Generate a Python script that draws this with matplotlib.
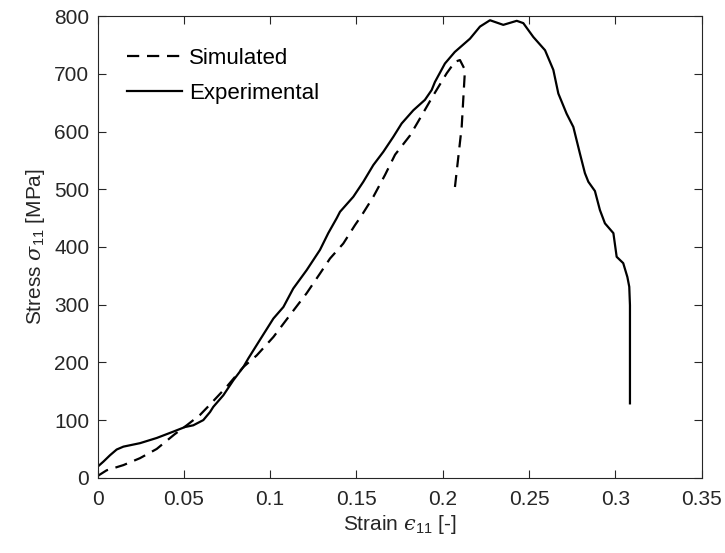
import numpy as np
import matplotlib
matplotlib.use("Agg")
import matplotlib.pyplot as plt

plt.rcParams['font.family'] = ['Liberation Sans', 'DejaVu Sans']
plt.rcParams['mathtext.fontset'] = 'custom'
plt.rcParams['mathtext.rm'] = 'Liberation Sans'
plt.rcParams['mathtext.it'] = 'DejaVu Serif:italic'

# simulated curve (strain, stress)
sim_strain = [0, 0.0053, 0.015, 0.0246, 0.0343, 0.0445, 0.0517, 0.0594, 0.0652, 0.0749,
              0.0845, 0.0922, 0.1019, 0.1115, 0.1212, 0.1289, 0.1347, 0.1424, 0.1492, 0.1531,
              0.1598, 0.1666, 0.1724, 0.181, 0.1859, 0.1946, 0.2023, 0.2071, 0.21, 0.2129,
              0.211, 0.2071]
sim_stress = [3, 13, 22, 34, 50, 75, 91, 109, 127, 158,
              192, 212, 244, 282, 320, 354, 380, 406, 438, 455,
              487, 525, 560, 593, 618, 663, 701, 721, 724, 707,
              608, 504]

# experimental curve (strain, stress)
exp_strain = [0, 0.0034, 0.0072, 0.0111, 0.015, 0.0246, 0.0343, 0.0439, 0.0507, 0.0555,
              0.0613, 0.0652, 0.0671, 0.0729, 0.0787, 0.0845, 0.0874, 0.0941, 0.1019, 0.1077,
              0.1134, 0.1212, 0.1289, 0.1337, 0.1386, 0.1405, 0.1482, 0.154, 0.1598, 0.1656,
              0.1714, 0.1762, 0.183, 0.1897, 0.1936, 0.1955, 0.2013, 0.207, 0.2158, 0.2216,
              0.2274, 0.2351, 0.2429, 0.2467, 0.2525, 0.2593, 0.2641, 0.267, 0.2718, 0.2757,
              0.2795, 0.2824, 0.2844, 0.2882, 0.2911, 0.294, 0.2989, 0.3008, 0.3046, 0.307,
              0.3081, 0.3085, 0.3085]
exp_stress = [19, 28, 39, 49, 54, 60, 69, 80, 88, 91,
              100, 114, 123, 143, 169, 192, 207, 239, 276, 296,
              328, 360, 395, 424, 450, 461, 487, 513, 542, 565,
              591, 614, 637, 655, 672, 686, 718, 738, 761, 782,
              793, 785, 792, 788, 764, 741, 707, 666, 631, 608,
              562, 528, 513, 497, 464, 441, 424, 383, 372, 348,
              331, 299, 129]

xticks = [0, 0.05, 0.1, 0.15, 0.2, 0.25, 0.3, 0.35]
xticklabels = ["0", "0.05", "0.1", "0.15", "0.2", "0.25", "0.3", "0.35"]
yticks = [0, 100, 200, 300, 400, 500, 600, 700, 800]

fig = plt.figure(figsize=(7.25, 5.53), dpi=100)
ax = fig.add_axes([0.1345, 0.136, 0.8332, 0.8347])

l1, = ax.plot(sim_strain, sim_stress, color="black", lw=1.6, ls="--", label="Simulated")
l1.set_dashes((5.5, 3.5))
ax.plot(exp_strain, exp_stress, color="black", lw=1.6, label="Experimental")

ax.set_xlim(0, 0.35)
ax.set_ylim(0, 800)
ax.set_xticks(xticks)
ax.set_xticklabels(xticklabels)
ax.set_yticks(yticks)

ax.tick_params(direction="in", top=True, right=True, length=6, width=0.8,
               colors="#262626", labelsize=15, pad=6)
ax.tick_params(axis="x", pad=9)
for s in ax.spines.values():
    s.set_color("#262626")
    s.set_linewidth(0.8)

ax.set_xlabel("Strain $\u03f5_{\\mathregular{11}}$ [-]", fontsize=15, color="#262626", labelpad=3)
ax.set_ylabel("Stress $\u03c3_{\\mathregular{11}}$ [MPa]", fontsize=15, color="#262626", labelpad=5)

ax.legend(loc="upper left", frameon=False, fontsize=16, handlelength=2.5,
          handletextpad=0.3, labelspacing=0.65, bbox_to_anchor=(0.015, 0.975))

fig.savefig("out.png", dpi=100)
